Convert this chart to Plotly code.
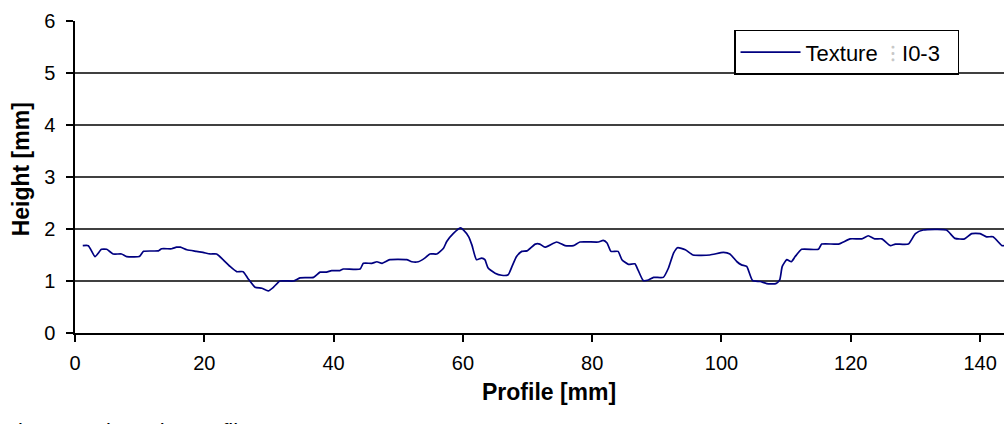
import plotly.graph_objects as go

# Surface profile: position along the profile [mm] and measured height [mm]
profile_mm = [
    1.2, 2.06, 3.1, 4.1, 4.9, 5.9, 7.2, 8.0, 9.95, 10.6, 12.9, 13.4, 14.96, 15.7, 16.3,
    17.3, 18.8, 19.8, 20.9, 21.9, 22.9, 23.98, 25.0, 26.0, 26.8, 27.85, 28.9, 29.9, 30.7,
    31.7, 33.8, 34.8, 36.9, 37.9, 38.9, 39.7, 40.98, 41.5, 44.1, 44.6, 45.9, 46.7, 47.5,
    48.7, 51.3, 52.1, 53.1, 54.1, 54.9, 55.96, 57.0, 57.5, 58.5, 59.6, 60.1, 60.9, 61.4,
    62.1, 62.9, 63.4, 63.9, 64.98, 66.0, 67.0, 67.6, 68.3, 69.1, 69.9, 71.2, 71.9, 72.7,
    74.5, 75.8, 77.1, 78.1, 80.96, 81.7, 82.3, 82.9, 84.0, 84.6, 85.6, 86.6, 87.1, 87.9,
    88.7, 89.5, 91.0, 91.8, 92.6, 93.2, 94.4, 95.6, 98.2, 100.3, 101.3, 102.4, 103.1,
    103.9, 104.8, 106.0, 107.0, 108.4, 109.0, 109.4, 110.1, 110.8, 111.4, 112.4, 115.0,
    115.5, 118.1, 119.9, 121.7, 122.7, 123.7, 124.8, 126.1, 126.9, 128.9, 130.0, 131.2,
    134.8, 136.1, 137.6, 138.7, 140.0, 141.0, 142.0, 143.4, 143.8,
]
height_mm = [
    1.68, 1.68, 1.47, 1.61, 1.61, 1.52, 1.52, 1.47, 1.47, 1.57, 1.58, 1.62, 1.62, 1.65, 1.65,
    1.60, 1.57, 1.55, 1.52, 1.52, 1.41, 1.28, 1.18, 1.18, 1.04, 0.88, 0.86, 0.81, 0.88,
    1.00, 1.00, 1.06, 1.07, 1.17, 1.17, 1.20, 1.20, 1.23, 1.23, 1.34, 1.34, 1.37, 1.34,
    1.41, 1.41, 1.37, 1.37, 1.44, 1.52, 1.52, 1.63, 1.76, 1.91, 2.02, 1.98, 1.85, 1.69,
    1.41, 1.44, 1.41, 1.25, 1.15, 1.11, 1.12, 1.28, 1.47, 1.57, 1.58, 1.71, 1.71, 1.65,
    1.75, 1.68, 1.68, 1.75, 1.75, 1.78, 1.73, 1.57, 1.57, 1.41, 1.32, 1.33, 1.21, 1.01,
    1.02, 1.07, 1.07, 1.25, 1.54, 1.64, 1.60, 1.50, 1.50, 1.55, 1.52, 1.37, 1.31,
    1.28, 1.01, 0.99, 0.95, 0.95, 1.02, 1.28, 1.41, 1.37, 1.47, 1.61, 1.61,
    1.71, 1.71, 1.81, 1.81, 1.87, 1.81, 1.81, 1.68, 1.71, 1.71, 1.91, 1.98,
    1.98, 1.82, 1.81, 1.91, 1.91, 1.85, 1.85, 1.68, 1.68,
]

series_name = ("Texture&nbsp;&nbsp;<span style='color:#c8c8c8'>⁝</span> I0-3"
               "&nbsp;&nbsp;")
x_ticks = [0, 20, 40, 60, 80, 100, 120, 140]
y_ticks = [0, 1, 2, 3, 4, 5, 6]
grid_levels = [1, 2, 3, 4, 5]
x_title = "Profile [mm]"
y_title = "Height [mm]"
caption = "Distance along the profile"

font = "Arial, Liberation Sans, sans-serif"

fig = go.Figure()
fig.add_trace(go.Scatter(
    x=profile_mm, y=height_mm, mode="lines", name=series_name,
    line=dict(color="#000080", width=1.7, shape="spline", smoothing=0.5),
))

for g in grid_levels:
    fig.add_shape(type="line", xref="paper", x0=0, x1=1, yref="y", y0=g, y1=g,
                  line=dict(color="black", width=1.5), layer="below")

fig.update_layout(
    width=1004, height=424,
    margin=dict(l=75, r=0, t=21, b=91),
    paper_bgcolor="white", plot_bgcolor="white",
    font=dict(family=font, size=20, color="black"),
    showlegend=True,
    legend=dict(
        x=0.9516, y=0.972, xanchor="right", yanchor="top",
        bgcolor="white", bordercolor="black", borderwidth=1.5,
        font=dict(family=font, size=22, color="black"),
        tracegroupgap=0, itemwidth=60,
    ),
    xaxis=dict(
        range=[0, 143.7], tickvals=x_ticks, showgrid=False, zeroline=False,
        showline=True, linecolor="black", linewidth=1.5,
        ticks="outside", ticklen=7, tickcolor="black", tickwidth=1.5,
        tickfont=dict(size=20), ticklabelstandoff=4,
    ),
    yaxis=dict(
        range=[0, 6], tickvals=y_ticks, showgrid=False, zeroline=False,
        showline=True, linecolor="black", linewidth=1.5,
        ticks="outside", ticklen=7, tickcolor="black", tickwidth=1.5,
        tickfont=dict(size=20), ticklabelstandoff=7,
    ),
    annotations=[
        dict(text=f"<b>{x_title}</b>", xref="paper", yref="paper", x=0.51, y=-0.14,
             xanchor="center", yanchor="top", showarrow=False, font=dict(size=23)),
        dict(text=f"<b>{y_title}</b>", xref="paper", yref="paper", x=-0.058, y=0.525,
             xanchor="center", yanchor="middle", textangle=-90, showarrow=False,
             font=dict(size=23)),
        dict(text=caption, xref="paper", yref="paper", x=-0.081, y=-0.27,
             xanchor="left", yanchor="top", showarrow=False, font=dict(size=22)),
    ],
)

fig.write_html("out.html")
